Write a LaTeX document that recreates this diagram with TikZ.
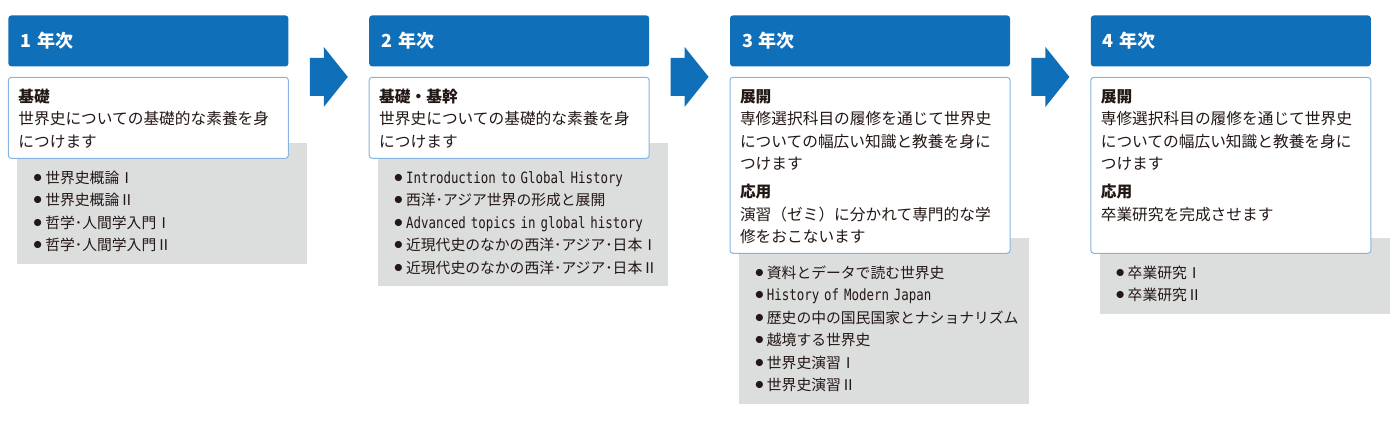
\documentclass[tikz,border=0pt]{standalone}
\usepackage{fontspec}
\setmainfont{Noto Sans CJK JP}
\newfontfamily\coursemono{DejaVu Sans Mono}[FakeStretch=0.8,Scale=1.05]
\usetikzlibrary{positioning,calc,backgrounds}
\definecolor{yearblue}{RGB}{15,111,185}
\definecolor{aimline}{RGB}{135,180,224}
\definecolor{coursegray}{RGB}{220,221,221}
\definecolor{inktext}{RGB}{35,24,21}
\tikzstyle{yearhead} = [fill=yearblue,rounded corners=1.5pt,minimum height=25.5pt,text width=128pt,inner xsep=6pt,align=left,text=white,font=\fontsize{9pt}{11pt}\selectfont\bfseries]
\tikzstyle{aimbox} = [draw=aimline,line width=0.5pt,fill=white,rounded corners=1.5pt,text width=130pt,inner xsep=5pt,inner ysep=5.5pt,text height=7pt,align=left,text=inktext,font=\fontsize{7.85pt}{11.25pt}\selectfont]
\tikzstyle{courselist} = [fill=coursegray,text width=132pt,inner xsep=6.5pt,inner ysep=6pt,text height=14pt,align=left,text=inktext,font=\fontsize{7.4pt}{11.25pt}\selectfont]
\newcommand{\course}[1]{\makebox[7.5pt][c]{\raisebox{0.5pt}{\fontsize{9pt}{9pt}\selectfont$\bullet$}}{#1}}
\newcommand{\yeararrow}[1]{\fill[yearblue] (#1) ++(-19,-19) -- ++(14,0) -- ++(0,-11) -- ++(24,30) -- ++(-24,30) -- ++(0,-11) -- ++(-14,0) -- cycle;}

\begin{document}
\begin{tikzpicture}[x=0.5pt,y=-0.5pt]
  \useasboundingbox (0,0) rectangle (1400,420);
  \node[yearhead,anchor=north west] (h1) at (8,15) {1 年次};
  \node[yearhead,right=40pt of h1] (h2) {2 年次};
  \node[yearhead,right=40pt of h2] (h3) {3 年次};
  \node[yearhead,right=40pt of h3] (h4) {4 年次};
  \node[aimbox,below=5pt of h1,text depth=22.5pt] (d1) {\textbf{基礎}\\世界史についての基礎的な素養を身\\につけます};
  \node[aimbox,below=5pt of h2,text depth=22.5pt] (d2) {\textbf{基礎・基幹}\\世界史についての基礎的な素養を身\\につけます};
  \node[aimbox,below=5pt of h3,text depth=70pt] (d3) {\textbf{展開}\\専修選択科目の履修を通じて世界史\\についての幅広い知識と教養を身に\\つけます\\[2.75pt]
    \textbf{応用}\\演習（ゼミ）に分かれて専門的な学\\修をおこないます};
  \node[aimbox,below=5pt of h4,text depth=70pt] (d4) {\textbf{展開}\\専修選択科目の履修を通じて世界史\\についての幅広い知識と教養を身に\\つけます\\[2.75pt]
    \textbf{応用}\\卒業研究を完成させます};
  \begin{scope}[on background layer]
    \node[courselist,anchor=north west] (l1) at ($(d1.south west)+(9,-16)$) {\course{世界史概論Ⅰ}\\\course{世界史概論Ⅱ}\\\course{哲学･人間学入門Ⅰ}\\\course{哲学･人間学入門Ⅱ}};
    \node[courselist,anchor=north west] (l2) at ($(d2.south west)+(9,-16)$) {\course{\coursemono Introduction to Global History}\\\course{西洋･アジア世界の形成と展開}\\\course{\coursemono Advanced topics in global history}\\\course{近現代史のなかの西洋･アジア･日本Ⅰ}\\\course{近現代史のなかの西洋･アジア･日本Ⅱ}};
    \node[courselist,anchor=north west] (l3) at ($(d3.south west)+(9,-16)$) {\course{資料とデータで読む世界史}\\\course{\coursemono History of Modern Japan}\\\course{歴史の中の国民国家とナショナリズム}\\\course{越境する世界史}\\\course{世界史演習Ⅰ}\\\course{世界史演習Ⅱ}};
    \node[courselist,anchor=north west] (l4) at ($(d4.south west)+(9,-16)$) {\course{卒業研究Ⅰ}\\\course{卒業研究Ⅱ}};
  \end{scope}
  \coordinate (a1) at ($(h1.east)!0.5!(h2.west)+(0,36)$);
  \coordinate (a2) at ($(h2.east)!0.5!(h3.west)+(0,36)$);
  \coordinate (a3) at ($(h3.east)!0.5!(h4.west)+(0,36)$);
  \yeararrow{a1}
  \yeararrow{a2}
  \yeararrow{a3}
\end{tikzpicture}
\end{document}
